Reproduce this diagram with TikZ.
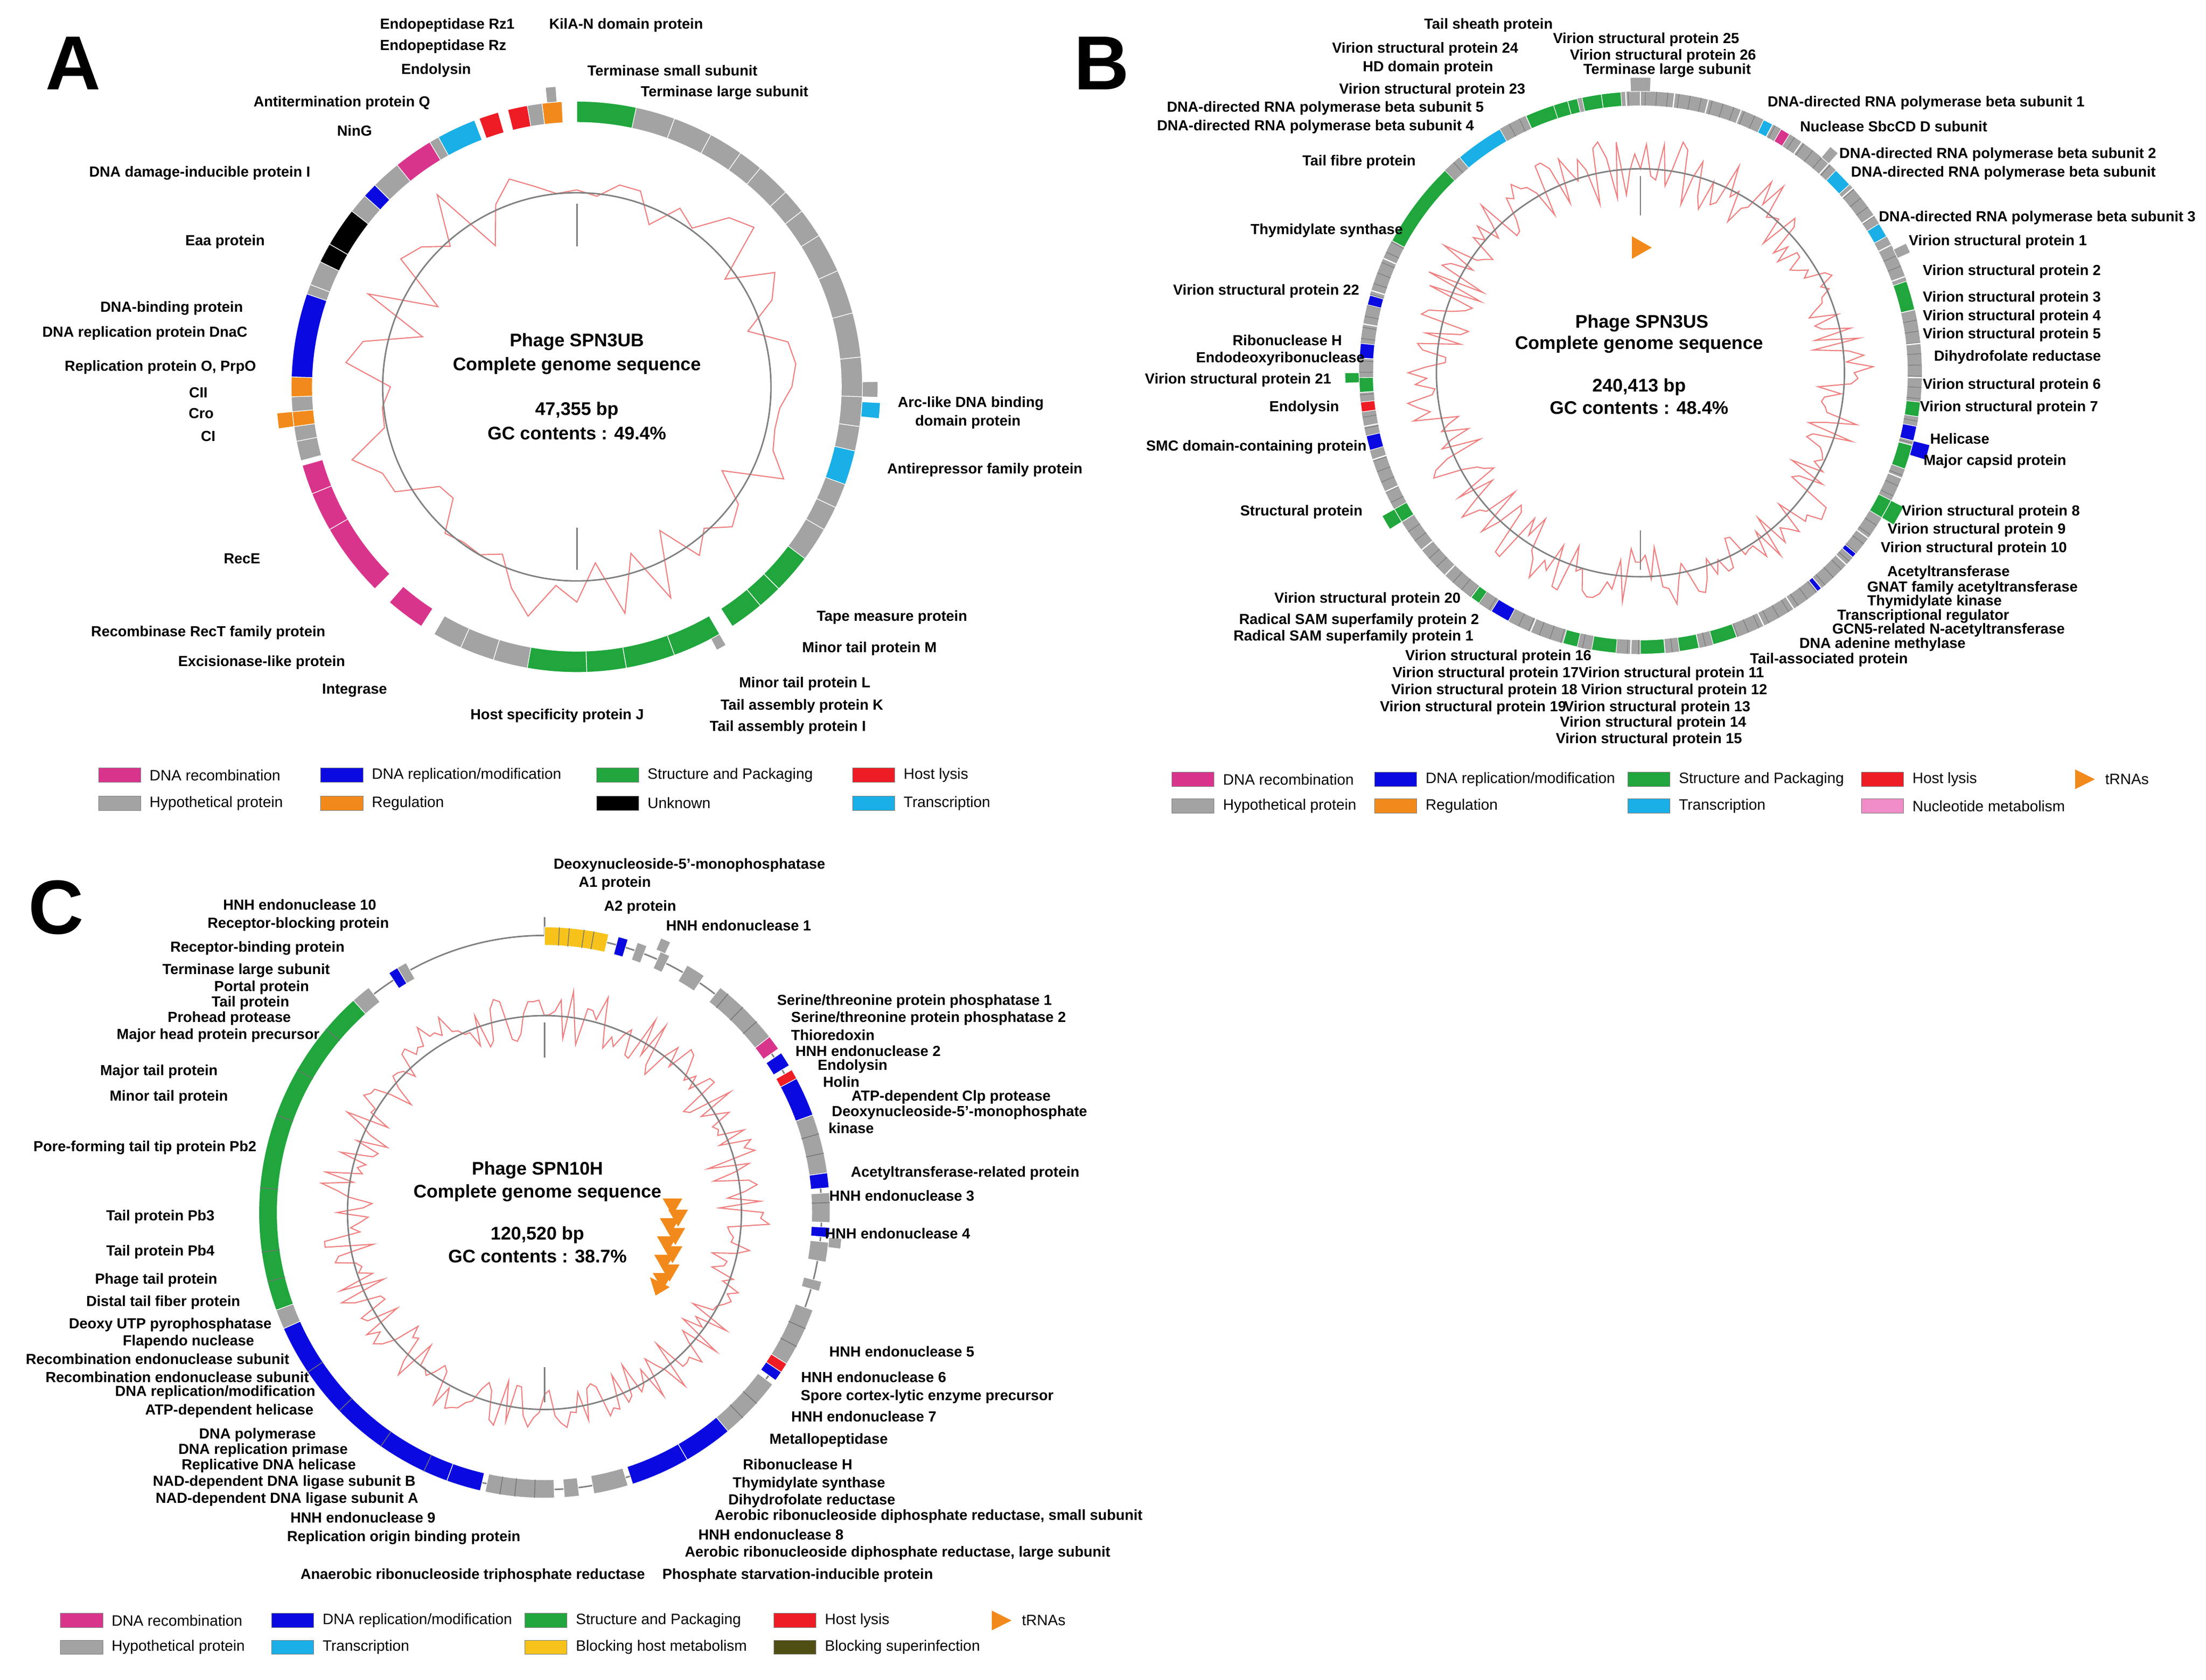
\documentclass[tikz,border=0pt]{standalone}
\usepackage{fontspec}
\setmainfont{Liberation Sans}
\definecolor{rec}{HTML}{D9348C}
\definecolor{rep}{HTML}{0A0AE0}
\definecolor{str}{HTML}{20A63C}
\definecolor{lys}{HTML}{EE1C24}
\definecolor{hyp}{HTML}{A3A3A3}
\definecolor{reg}{HTML}{F28A1B}
\definecolor{trn}{HTML}{1AAFE6}
\definecolor{blk}{HTML}{4F4F14}
\definecolor{nuc}{HTML}{F08CC8}
\definecolor{yel}{HTML}{F7C31B}
\definecolor{gcl}{HTML}{F08080}
\newcommand\gseg[5]{\fill[#5,draw=white,line width=0.25pt] ({90-#3}:#2) arc[start angle={90-#3},end angle={90-#4},radius=#2*0.02cm] -- ({90-#4}:#1) arc[start angle={90-#4},end angle={90-#3},radius=#1*0.02cm] -- cycle;}
\newcommand\gcline[3]{\draw[gc] (90:#1) \foreach \t [evaluate=\t as \rr using #1+#2*rand] in {#3} { -- ({90-\t}:\rr) } -- cycle;}
\begin{document}
\begin{tikzpicture}[x=0.02cm,y=-0.02cm,
 lab/.style={font=\fontsize{5.9}{6.8}\selectfont\bfseries,inner sep=0},
 leg/.style={font=\fontsize{6.1}{7}\selectfont,anchor=west,inner sep=0},
 ctr/.style={font=\fontsize{7.4}{8.5}\selectfont\bfseries,inner sep=0},
 big/.style={font=\fontsize{31}{31}\selectfont\bfseries,inner sep=0},
 box/.style={draw=black!50,line width=0.2pt},
 gc/.style={draw=gcl,line width=0.45pt},
 inner/.style={draw=gray,line width=0.6pt},
 trna/.style={fill=reg,draw=none}]
\useasboundingbox (0,0) rectangle (1568,1194);
\fill[white] (0,0) rectangle (1568,1194);
\pgfmathsetseed{7}
% ================= A =================
\begin{scope}[shift={(410,275)},x=0.02cm,y=0.02cm]
\gcline{140}{30}{6,12,...,354}
\draw[inner] (0,0) circle[radius=138*0.02cm];
\draw[inner] (90:100) -- (90:130); \draw[inner] (-90:100) -- (-90:130);
\foreach \a/\b/\c in {12/40/hyp,40/58/hyp,58/75/hyp,75/92/hyp,92/103/hyp,103/110/trn,110/120/hyp,120/127/hyp,127/147/str,150/190/str,190/210/hyp,213/221/rec,225/254/rec,255/259/hyp,259/262/hyp,262/265/reg,265/268/hyp,268/272/reg,272/289/rep,289/296/hyp,296/308/black,308/312/hyp,312/315/rep,315/321/hyp,321/329/rec,329/331/hyp,331/339/trn,340/344/lys,346/350/lys,350/353/hyp,353/357/reg,0/12/str}
  {\gseg{188}{203}{\a}{\b}{\c}}
\foreach \a in {20,28,35,47,52,66,84,98,115,135,140,160,170,178,197,204,240,248,291,300}
  {\draw[white,line width=0.3pt] ({90-\a}:188) -- ({90-\a}:203);}
\gseg{203}{216}{93}{96}{trn}
\gseg{203}{214}{89}{92}{hyp}
\gseg{203}{214}{354}{356}{hyp}
\gseg{203}{212}{150}{152}{hyp}
\gseg{203}{214}{262}{265}{reg}
\end{scope}
\node[big] (bA) at (52,45) {A};
\node[ctr] (a1) at (410,243) {Phage SPN3UB};
\node[ctr] (a2) at (410,260) {Complete genome sequence};
\node[ctr] (a3) at (410,292) {47,355 bp};
\node[ctr] (a4) at (410,308) {GC contents : 49.4\%};
\foreach \x/\y/\t [count=\i] in {318/18/{Endopeptidase Rz1},445/18/{KilA-N domain protein},315/33/{Endopeptidase Rz},310/50/{Endolysin},478/50/{Terminase small subunit},515/66/{Terminase large subunit},243/73/{Antitermination protein Q},252/93/{NinG},142/123/{DNA damage-inducible protein I},160/172/{Eaa protein},122/219/{DNA-binding protein},103/237/{DNA replication protein DnaC},114/261/{Replication protein O, PrpO},141/279/{CII},143/294/{Cro},148/310/{CI},690/287/{Arc-like DNA binding},688/300/{domain protein},700/334/{Antirepressor family protein},172/397/{RecE},148/450/{Recombinase RecT family protein},186/471/{Excisionase-like protein},252/491/{Integrase},634/439/{Tape measure protein},618/461/{Minor tail protein M},572/486/{Minor tail protein L},570/502/{Tail assembly protein K},560/517/{Tail assembly protein I},396/509/{Host specificity protein J}}
  {\node[lab] (la\i) at (\x,\y) {\t};}
\foreach \x/\y/\c/\t [count=\i] in {70/551/rec/{DNA recombination},228/551/rep/{DNA replication/modification},424/551/str/{Structure and Packaging},606/551/lys/{Host lysis},70/571/hyp/{Hypothetical protein},228/571/reg/{Regulation},424/571/black/{Unknown},606/571/trn/{Transcription}}
  {\fill[\c,box] (\x,\y-5) rectangle (\x+30,\y+5); \node[leg] (ga\i) at (\x+36,\y) {\t};}
% ================= B =================
\begin{scope}[shift={(1166,265)},x=0.02cm,y=0.02cm]
\fill[hyp] (0,0) circle[radius=200*0.02cm]; \fill[white] (0,0) circle[radius=190*0.02cm];
\gcline{145}{22}{1.5,3,...,358.5}
\draw[inner] (0,0) circle[radius=145*0.02cm];
\draw[inner] (90:112) -- (90:140); \draw[inner] (-90:112) -- (-90:140);
\foreach \a in {1,3.3,...,359}
  {\draw[black!55,line width=0.2pt] ({90-\a}:190) -- ({90-\a}:200);}
\foreach \a in {0,7,...,359}
  {\draw[white,line width=0.5pt] ({90-\a}:190) -- ({90-\a}:200);}
\foreach \a/\b/\c in {340/345/str,348/352/str,352/356/str,26/28/trn,30/32/rec,44/48/trn,58/61/trn,71/77/str,96/99/str,101/104/rep,105/110/str,117/121/str,130/131/rep,140/141/rep,160/165/str,168/172/str,175/180/str,185/190/str,193/196/str,208/212/rep,215/217/str,238/241/str,254/257/rep,262/264/lys,266/269/str,273/276/rep,284/286/rep,298/316/str,320/330/trn,336/342/str,345/347/str}
  {\gseg{190}{200}{\a}{\b}{\c}}
\gseg{200}{210}{358}{362}{hyp}
\gseg{200}{210}{40}{42}{hyp}
\gseg{200}{210}{64}{66}{hyp}
\gseg{200}{212}{104}{107}{rep}
\gseg{200}{210}{117}{121}{str}
\gseg{200}{210}{238}{241}{str}
\gseg{200}{210}{268}{270}{str}
\fill[trna] (-6,97) -- (8,89) -- (-6,81) -- cycle;
\end{scope}
\node[big] (bB) at (783,45) {B};
\node[ctr] (b1) at (1167,230) {Phage SPN3US};
\node[ctr] (b2) at (1165,245) {Complete genome sequence};
\node[ctr] (b3) at (1165,275) {240,413 bp};
\node[ctr] (b4) at (1165,290) {GC contents : 48.4\%};
\foreach \x/\y/\t [count=\i] in {1058/18/{Tail sheath protein},1170/28/{Virion structural protein 25},1013/35/{Virion structural protein 24},1182/40/{Virion structural protein 26},1015/48/{HD domain protein},1185/50/{Terminase large subunit},1018/64/{Virion structural protein 23},942/77/{DNA-directed RNA polymerase beta subunit 5},935/90/{DNA-directed RNA polymerase beta subunit 4},1369/73/{DNA-directed RNA polymerase beta subunit 1},1346/90/{Nuclease SbcCD D subunit},1420/110/{DNA-directed RNA polymerase beta subunit 2},1424/123/{DNA-directed RNA polymerase beta subunit},966/115/{Tail fibre protein},1448/155/{DNA-directed RNA polymerase beta subunit 3},943/164/{Thymidylate synthase},1420/172/{Virion structural protein 1},1430/193/{Virion structural protein 2},900/207/{Virion structural protein 22},1430/212/{Virion structural protein 3},1430/225/{Virion structural protein 4},1430/238/{Virion structural protein 5},915/242/{Ribonuclease H},910/255/{Endodeoxyribonuclease},1434/254/{Dihydrofolate reductase},880/270/{Virion structural protein 21},1430/274/{Virion structural protein 6},927/290/{Endolysin},1428/290/{Virion structural protein 7},1393/312/{Helicase},893/318/{SMC domain-containing protein},1418/328/{Major capsid protein},925/364/{Structural protein},1415/364/{Virion structural protein 8},1405/377/{Virion structural protein 9},1403/390/{Virion structural protein 10},1385/407/{Acetyltransferase},1402/418/{GNAT family acetyltransferase},1375/428/{Thymidylate kinase},972/426/{Virion structural protein 20},1367/438/{Transcriptional regulator},966/441/{Radical SAM superfamily protein 2},1385/448/{GCN5-related N-acetyltransferase},962/453/{Radical SAM superfamily protein 1},1338/458/{DNA adenine methylase},1065/467/{Virion structural protein 16},1300/469/{Tail-associated protein},1056/479/{Virion structural protein 17},1188/479/{Virion structural protein 11},1055/491/{Virion structural protein 18},1190/491/{Virion structural protein 12},1047/503/{Virion structural protein 19},1178/503/{Virion structural protein 13},1175/514/{Virion structural protein 14},1172/526/{Virion structural protein 15}}
  {\node[lab] (lb\i) at (\x,\y) {\t};}
\foreach \x/\y/\c/\t [count=\i] in {833/554/rec/{DNA recombination},977/554/rep/{DNA replication/modification},1157/554/str/{Structure and Packaging},1323/554/lys/{Host lysis},833/573/hyp/{Hypothetical protein},977/573/reg/{Regulation},1157/573/trn/{Transcription},1323/573/nuc/{Nucleotide metabolism}}
  {\fill[\c,box] (\x,\y-5) rectangle (\x+30,\y+5); \node[leg] (gb\i) at (\x+36,\y) {\t};}
\fill[trna] (1475,547) -- (1489,554) -- (1475,561) -- cycle;
\node[leg] (gbt) at (1496,554) {tRNAs};
% ================= C =================
\begin{scope}[shift={(387,862)},x=0.02cm,y=0.02cm]
\gcline{140}{20}{1.5,3,...,358.5}
\draw[inner] (0,0) circle[radius=140*0.02cm];
\draw[inner] (90:110) -- (90:135); \draw[inner] (-90:110) -- (-90:135);
\draw[gray,line width=0.6pt] (0,0) circle[radius=197*0.02cm];
\draw[gray,line width=0.6pt] (90:197) -- (90:210);
\foreach \a/\b/\c in {0/13/yel,15/17/rep,19/21/hyp,24/26/hyp,30/34/hyp,38/52/hyp,52/55/rec,56/59/rep,60/62/lys,62/70/rep,70/82/hyp,82/85/rep,86/92/hyp,93/95/rep,96/100/hyp,104/106/hyp,110/122/hyp,122/124/lys,124/126/rep,127/140/hyp,140/150/rep,150/162/rep,163/170/hyp,173/176/hyp,178/192/hyp,193/200/rep,200/246/rep,246/250/hyp,250/318/str,318/322/hyp,327/329/rep,329/331/hyp}
  {\gseg{190}{203}{\a}{\b}{\c}}
\foreach \a in {3,5,8,10,40,44,48,74,78,88,114,118,132,136,182,186,189,205,215,226,236,256,262,275,290,300,310}
  {\draw[black!55,line width=0.3pt] ({90-\a}:190) -- ({90-\a}:203);}
\gseg{203}{212}{95}{97}{hyp}
\gseg{203}{212}{23}{25}{hyp}
\end{scope}
\foreach \x/\y in {478/858,482/866,476/872,480/879,474/885,478/892,472/898,476/905,471/911}
  {\fill[trna] (\x-7,\y-6) -- (\x+7,\y-6) -- (\x,\y+6) -- cycle;}
\fill[trna] (462,908) -- (476,915) -- (466,921) -- cycle;
\node[big] (bC) at (40,645) {C};
\node[ctr] (c1) at (382,832) {Phage SPN10H};
\node[ctr] (c2) at (382,848) {Complete genome sequence};
\node[ctr] (c3) at (382,878) {120,520 bp};
\node[ctr] (c4) at (382,893) {GC contents : 38.7\%};
\foreach \x/\y/\t [count=\i] in {490/615/{Deoxynucleoside-5'-monophosphatase},437/628/{A1 protein},213/643/{HNH endonuclease 10},455/645/{A2 protein},212/657/{Receptor-blocking protein},525/658/{HNH endonuclease 1},183/674/{Receptor-binding protein},175/690/{Terminase large subunit},186/702/{Portal protein},178/713/{Tail protein},163/724/{Prohead protease},155/736/{Major head protein precursor},650/712/{Serine/threonine protein phosphatase 1},660/724/{Serine/threonine protein phosphatase 2},592/736/{Thioredoxin},617/747/{HNH endonuclease 2},606/758/{Endolysin},598/769/{Holin},676/780/{ATP-dependent Clp protease},682/791/{Deoxynucleoside-5'-monophosphate},605/802/{kinase},113/762/{Major tail protein},120/780/{Minor tail protein},103/816/{Pore-forming tail tip protein Pb2},686/834/{Acetyltransferase-related protein},641/850/{HNH endonuclease 3},114/865/{Tail protein Pb3},638/877/{HNH endonuclease 4},114/890/{Tail protein Pb4},111/910/{Phage tail protein},116/926/{Distal tail fiber protein},121/942/{Deoxy UTP pyrophosphatase},134/954/{Flapendo nuclease},641/961/{HNH endonuclease 5},112/966/{Recombination endonuclease subunit},621/979/{HNH endonuclease 6},126/979/{Recombination endonuclease subunit},153/990/{DNA replication/modification},659/993/{Spore cortex-lytic enzyme precursor},163/1003/{ATP-dependent helicase},614/1007/{HNH endonuclease 7},183/1020/{DNA polymerase},589/1024/{Metallopeptidase},187/1031/{DNA replication primase},191/1042/{Replicative DNA helicase},567/1041/{Ribonuclease H},202/1054/{NAD-dependent DNA ligase subunit B},575/1055/{Thymidylate synthase},204/1066/{NAD-dependent DNA ligase subunit A},577/1067/{Dihydrofolate reductase},258/1079/{HNH endonuclease 9},660/1078/{Aerobic ribonucleoside diphosphate reductase, small subunit},548/1091/{HNH endonuclease 8},287/1093/{Replication origin binding protein},638/1104/{Aerobic ribonucleoside diphosphate reductase, large subunit},336/1120/{Anaerobic ribonucleoside triphosphate reductase},567/1120/{Phosphate starvation-inducible protein}}
  {\node[lab] (lc\i) at (\x,\y) {\t};}
\foreach \x/\y/\c/\t [count=\i] in {43/1152/rec/{DNA recombination},193/1152/rep/{DNA replication/modification},373/1152/str/{Structure and Packaging},550/1152/lys/{Host lysis},43/1171/hyp/{Hypothetical protein},193/1171/trn/{Transcription},373/1171/yel/{Blocking host metabolism},550/1171/blk/{Blocking superinfection}}
  {\fill[\c,box] (\x,\y-5) rectangle (\x+30,\y+5); \node[leg] (gc\i) at (\x+36,\y) {\t};}
\fill[trna] (705,1145) -- (719,1152) -- (705,1159) -- cycle;
\node[leg] (gct) at (726,1152) {tRNAs};
\end{tikzpicture}
\end{document}
